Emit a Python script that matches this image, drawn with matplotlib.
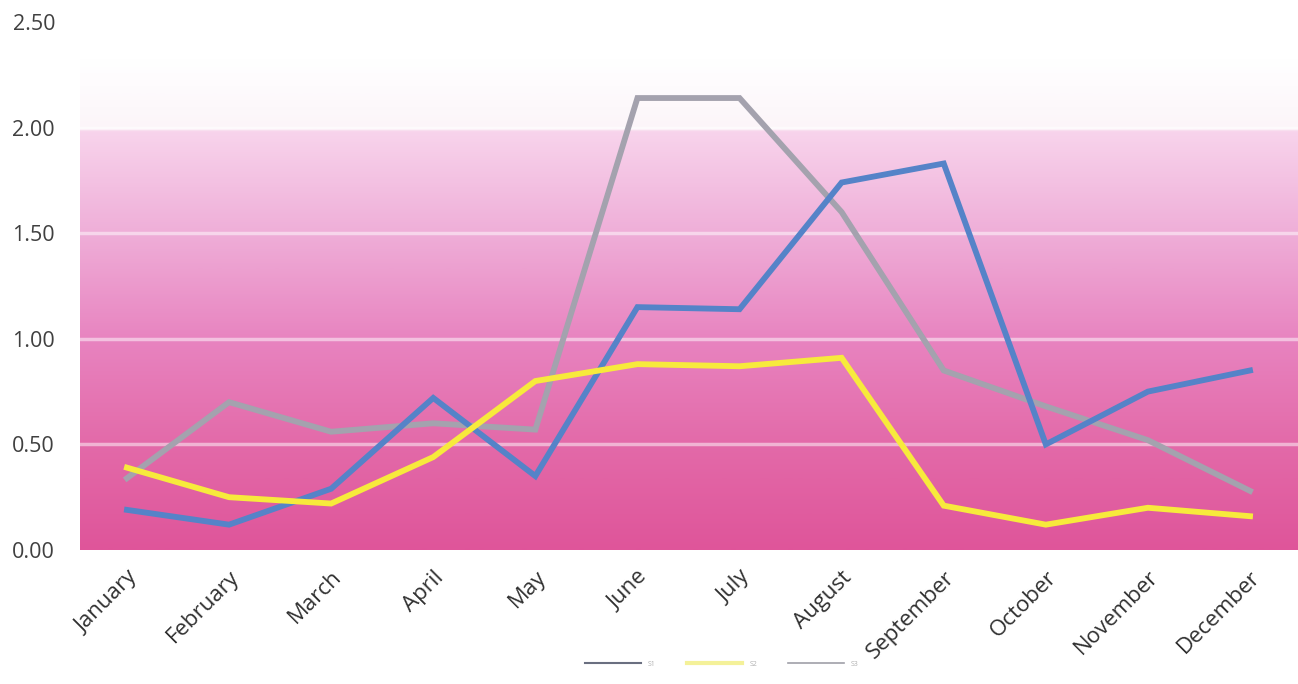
import numpy as np
import matplotlib
matplotlib.use("Agg")
import matplotlib.pyplot as plt
from matplotlib.colors import LinearSegmentedColormap
from matplotlib.lines import Line2D

months = ["January", "February", "March", "April", "May", "June", "July",
          "August", "September", "October", "November", "December"]
series_blue = [0.19, 0.12, 0.29, 0.72, 0.35, 1.15, 1.14, 1.74, 1.83, 0.50, 0.75, 0.85]
series_yellow = [0.39, 0.25, 0.22, 0.44, 0.80, 0.88, 0.87, 0.91, 0.21, 0.12, 0.20, 0.16]
series_gray = [0.34, 0.70, 0.56, 0.60, 0.57, 2.14, 2.14, 1.60, 0.85, 0.68, 0.52, 0.28]
legend_labels = ["S1", "S2", "S3"]
yticks = [0.0, 0.5, 1.0, 1.5, 2.0, 2.5]

plt.rcParams['font.family'] = ['Open Sans', 'DejaVu Sans']

fig = plt.figure(figsize=(12.98, 6.84), dpi=100)
ax = fig.add_axes([80/1298, 1-550/684, 1-80/1298, (550-22)/684])

x = np.arange(len(months))
x0, x1 = -0.46, 11.47
ax.set_xlim(x0, x1)
ax.set_ylim(0, 2.5)

# background gradient
cmap = LinearSegmentedColormap.from_list("pinkgrad", [
    (0.0, "#df559a"),
    (0.2, "#e36aa9"),
    (0.4, "#e884c0"),
    (0.6, "#efaed8"),
    (0.795, "#f8d4ec"),
    (0.80, "#fcf5f9"),
    (0.88, "#fefbfd"),
    (0.93, "#ffffff"),
    (1.0, "#ffffff"),
])
grad = np.linspace(0, 1, 512).reshape(-1, 1)
ax.imshow(grad, extent=[x0, x1, 0, 2.5], origin="lower", aspect="auto",
          cmap=cmap, zorder=0, interpolation="bilinear")

for yv in [0.5, 1.0, 1.5, 2.0]:
    ax.axhline(yv, color="white", alpha=0.5, lw=2.5, zorder=1)

ax.plot(x, series_blue, color="#5583c8", lw=4.2, zorder=3, solid_joinstyle="miter")
ax.plot(x, series_yellow, color="#f7ea3c", lw=4.2, zorder=4, solid_joinstyle="miter")
ax.plot(x, series_gray, color="#a4a2ae", lw=4.2, zorder=2, solid_joinstyle="miter")

for s in ax.spines.values():
    s.set_visible(False)
ax.set_yticks(yticks)
ax.set_yticklabels([f"{v:.2f}" for v in yticks], fontsize=15.5, color="#404040")
ax.set_xticks(x)
ax.set_xticklabels(months, rotation=45, ha="right", rotation_mode="anchor",
                   fontsize=16, color="#303030")
ax.tick_params(axis="both", length=0)
ax.tick_params(axis="y", pad=18)
ax.tick_params(axis="x", pad=12)

handles = [Line2D([], [], color="#6a6f80", lw=1.5),
           Line2D([], [], color="#f4f199", lw=3),
           Line2D([], [], color="#a0a0a8", lw=1.2)]
fig.legend(handles, legend_labels, loc="center", bbox_to_anchor=(722/1298, 1-664/684),
           ncol=3, frameon=False, fontsize=5, labelcolor="#b0b0b0",
           handlelength=8, columnspacing=4.5, handletextpad=1.0)

fig.savefig("out.png", dpi=100)
